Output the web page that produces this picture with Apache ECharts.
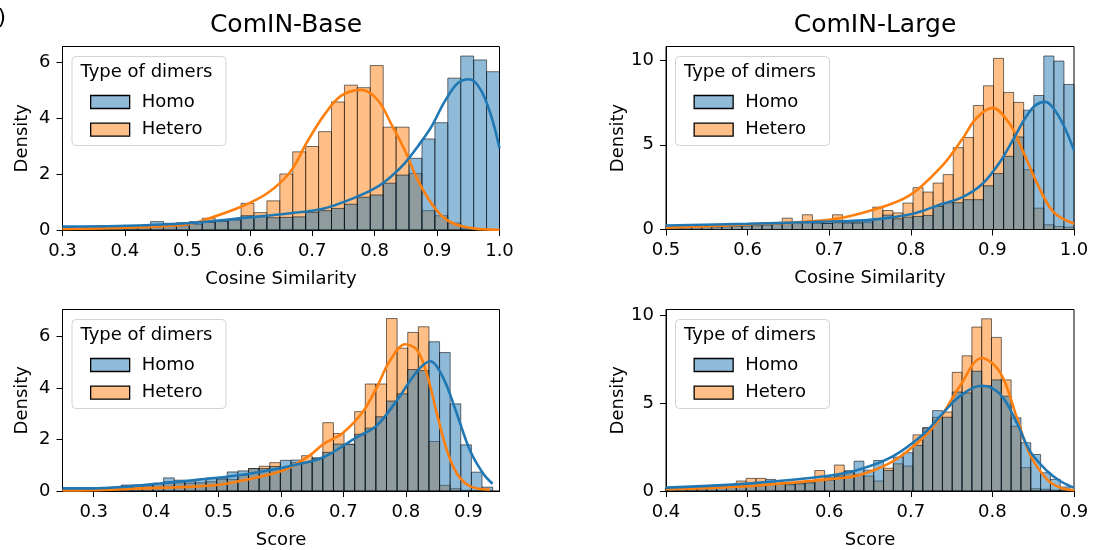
<!DOCTYPE html>
<html>
<head>
<meta charset="utf-8">
<script src="https://cdn.jsdelivr.net/npm/echarts@6/dist/echarts.min.js"></script>
<style>
html, body { margin: 0; padding: 0; background: #fff; }
#chart { width: 1094px; height: 550px; }
</style>
</head>
<body>
<div id="chart"></div>
<script>
const FONT = 'DejaVu Sans';
const HOMO = '#1f77b4';
const HETERO = '#ff7f0e';

// ComIN-Base, cosine similarity
const baseCosLo = 0.2962, baseCosW = 0.0207;
const baseCosHomo = [0.12, 0.12, 0.12, 0.1, 0.1, 0.12, 0.12, 0.3, 0.24, 0.26, 0.3, 0.27, 0.33, 0.38,
  0.51, 0.48, 0.44, 0.45, 0.47, 0.63, 0.69, 0.77, 0.92, 1.17, 1.25, 1.67, 1.96, 2.56, 3.25, 3.83,
  5.42, 6.21, 6.07, 5.65];
const baseCosHetero = [0.04, 0.04, 0.05, 0.06, 0.06, 0.07, 0.08, 0.1, 0.12, 0.15, 0.2, 0.42, 0.3, 0.35,
  0.95, 0.62, 1.04, 2.0, 2.79, 2.98, 3.51, 4.57, 5.17, 5.08, 5.87, 3.67, 3.67, 2.02, 0.69, 0.51,
  0.25, 0.05, 0.02, 0.01];
const baseCosKdeHomoX = [0.3, 0.4, 0.5, 0.6, 0.665, 0.719, 0.772, 0.805, 0.826, 0.848, 0.869, 0.891, 0.912, 0.933, 0.952, 0.97, 0.987, 1.0];
const baseCosKdeHomoY = [0.12, 0.15, 0.24, 0.45, 0.6, 0.77, 1.19, 1.55, 1.9, 2.38, 2.98, 3.69, 4.58, 5.24, 5.38, 5.0, 4.05, 2.92];
const baseCosKdeHetX = [0.3, 0.4, 0.5, 0.526, 0.586, 0.628, 0.665, 0.692, 0.719, 0.746, 0.779, 0.805, 0.826, 0.848, 0.869, 0.891, 0.912, 0.933, 0.96, 1.0];
const baseCosKdeHetY = [0.04, 0.08, 0.2, 0.35, 0.83, 1.31, 2.08, 3.15, 4.1, 4.79, 5.0, 4.64, 3.81, 2.86, 1.79, 0.95, 0.42, 0.18, 0.05, 0.01];

// ComIN-Large, cosine similarity
const largeCosLo = 0.49447, largeCosW = 0.01233;
const largeCosHomo = [0.14, 0.15, 0.16, 0.18, 0.2, 0.2, 0.22, 0.25, 0.25, 0.28, 0.3, 0.36, 0.4, 0.4,
  0.4, 0.4, 0.36, 0.4, 0.4, 0.4, 0.5, 0.63, 0.85, 0.63, 0.73, 0.77, 0.83, 1.36, 1.58, 1.58, 1.76,
  1.76, 2.58, 3.3, 4.32, 5.46, 7.04, 7.91, 10.24, 9.94, 8.56];
const largeCosHetero = [0.05, 0.06, 0.08, 0.1, 0.1, 0.12, 0.15, 0.18, 0.2, 0.22, 0.25, 0.3, 0.67, 0.35,
  0.87, 0.38, 0.36, 0.87, 0.38, 0.38, 0.4, 1.32, 1.12, 0.98, 1.56, 2.47, 2.21, 2.74, 3.24, 4.83, 5.43,
  7.32, 8.48, 10.1, 8.09, 7.5, 3.53, 1.26, 0.28, 0.18, 0.14];
const largeCosKdeHomoX = [0.5, 0.6, 0.7, 0.75, 0.8, 0.839, 0.8635, 0.888, 0.908, 0.925, 0.941, 0.953, 0.965, 0.978, 0.99, 1.0];
const largeCosKdeHomoY = [0.24, 0.34, 0.47, 0.57, 0.9, 1.52, 1.91, 2.7, 3.89, 5.27, 6.64, 7.34, 7.53, 6.94, 5.86, 4.67];
const largeCosKdeHetX = [0.5, 0.6, 0.7, 0.751, 0.798, 0.839, 0.8635, 0.88, 0.9, 0.921, 0.937, 0.955, 0.975, 1.0];
const largeCosKdeHetY = [0.1, 0.3, 0.57, 1.12, 2.0, 3.79, 5.37, 6.55, 7.18, 6.25, 4.67, 2.7, 1.02, 0.34];

// ComIN-Base, score
const baseScoreLo = 0.242, baseScoreW = 0.017;
const baseScoreHomo = [0.08, 0.05, 0.05, 0.07, 0.14, 0.14, 0.23, 0.23, 0.23, 0.3, 0.51, 0.42, 0.36, 0.46,
  0.5, 0.5, 0.74, 0.78, 0.87, 0.87, 0.95, 1.19, 1.2, 1.12, 1.28, 1.5, 1.82, 1.82, 2.2, 2.44, 2.88,
  3.49, 3.77, 4.71, 4.67, 5.79, 5.37, 3.38, 1.79, 0.73, 0.15];
const baseScoreHetero = [0.02, 0.02, 0.03, 0.05, 0.1, 0.14, 0.2, 0.22, 0.2, 0.28, 0.36, 0.32, 0.3, 0.32,
  0.36, 0.45, 0.45, 0.6, 0.87, 0.96, 1.1, 0.87, 1.1, 1.37, 1.28, 2.65, 2.23, 1.8, 3.08, 4.15, 4.15,
  6.69, 5.54, 6.15, 6.37, 1.92, 0.22, 0.09, 0.03, 0.01, 0];
const baseScoreKdeHomoX = [0.25, 0.299, 0.353, 0.406, 0.459, 0.513, 0.566, 0.62, 0.668, 0.721, 0.753, 0.785, 0.818, 0.839, 0.86, 0.882, 0.903, 0.924, 0.939];
const baseScoreKdeHomoY = [0.1, 0.1, 0.17, 0.29, 0.42, 0.55, 0.74, 1.0, 1.31, 2.08, 2.53, 3.49, 4.64, 5.03, 4.38, 2.97, 1.56, 0.67, 0.28];
const baseScoreKdeHetX = [0.25, 0.3, 0.4, 0.459, 0.497, 0.529, 0.566, 0.609, 0.647, 0.668, 0.7, 0.732, 0.753, 0.774, 0.799, 0.818, 0.834, 0.85, 0.866, 0.882, 0.903, 0.935];
const baseScoreKdeHetY = [0.02, 0.03, 0.12, 0.17, 0.23, 0.36, 0.55, 0.85, 1.4, 1.82, 2.27, 3.1, 4.0, 5.03, 5.69, 5.47, 4.51, 2.97, 1.56, 0.67, 0.18, 0.05];

// ComIN-Large, score
const largeScoreLo = 0.3899, largeScoreW = 0.01203;
const largeScoreHomo = [0.2, 0.2, 0.22, 0.22, 0.25, 0.25, 0.25, 0.3, 0.28, 0.32, 0.3, 0.66, 0.4, 0.4,
  0.45, 0.5, 0.6, 0.76, 0.85, 1.14, 1.7, 1.19, 1.74, 1.17, 1.93, 2.18, 2.6, 3.6, 4.58, 4.2, 5.64,
  5.59, 6.82, 6.0, 6.33, 5.4, 4.17, 2.75, 2.08, 1.04, 0.66, 0.23];
const largeScoreHetero = [0.1, 0.1, 0.1, 0.12, 0.12, 0.15, 0.2, 0.2, 0.57, 0.72, 0.72, 0.38, 0.38, 0.35,
  0.4, 0.45, 1.17, 0.6, 1.48, 1.14, 0.95, 0.85, 0.57, 1.3, 1.55, 1.42, 3.2, 3.6, 4.2, 4.5, 6.76,
  7.7, 9.34, 9.81, 8.75, 6.33, 3.69, 1.33, 0.13, 0.1, 0.05, 0.02];
const largeScoreKdeHomoX = [0.4, 0.5, 0.597, 0.637, 0.6785, 0.715, 0.736, 0.76, 0.787, 0.81, 0.83, 0.846, 0.867, 0.883, 0.9];
const largeScoreKdeHomoY = [0.19, 0.42, 0.85, 1.23, 1.99, 3.22, 4.26, 5.4, 6.0, 5.49, 3.88, 2.27, 1.14, 0.57, 0.19];
const largeScoreKdeHetX = [0.4, 0.5, 0.597, 0.637, 0.6785, 0.715, 0.736, 0.76, 0.787, 0.81, 0.83, 0.846, 0.867, 0.883, 0.9];
const largeScoreKdeHetY = [0.1, 0.28, 0.66, 0.91, 1.7, 3.03, 4.17, 5.97, 7.58, 6.72, 4.17, 2.08, 0.66, 0.19, 0.04];

const xTicksBaseCos = [0.3, 0.4, 0.5, 0.6, 0.7, 0.8, 0.9, 1.0];
const xTicksLargeCos = [0.5, 0.6, 0.7, 0.8, 0.9, 1.0];
const xTicksBaseScore = [0.3, 0.4, 0.5, 0.6, 0.7, 0.8, 0.9];
const xTicksLargeScore = [0.4, 0.5, 0.6, 0.7, 0.8, 0.9];
const yTicksBase = [0, 2, 4, 6];
const yTicksLarge = [0, 5, 10];

const panels = [
  { grid: { left: 62.5, top: 46.5, width: 437, height: 183.5 }, xMin: 0.3, xMax: 1.0, yMax: 6.55,
    xTicks: xTicksBaseCos, yTicks: yTicksBase, xName: 'Cosine Similarity',
    lo: baseCosLo, w: baseCosW, homo: baseCosHomo, hetero: baseCosHetero,
    kHomo: [baseCosKdeHomoX, baseCosKdeHomoY], kHet: [baseCosKdeHetX, baseCosKdeHetY] },
  { grid: { left: 666, top: 46.5, width: 408, height: 183 }, xMin: 0.5, xMax: 1.0, yMax: 10.8,
    xTicks: xTicksLargeCos, yTicks: yTicksLarge, xName: 'Cosine Similarity',
    lo: largeCosLo, w: largeCosW, homo: largeCosHomo, hetero: largeCosHetero,
    kHomo: [largeCosKdeHomoX, largeCosKdeHomoY], kHet: [largeCosKdeHetX, largeCosKdeHetY] },
  { grid: { left: 62.5, top: 309.5, width: 437, height: 183 }, xMin: 0.25, xMax: 0.95, yMax: 7.04,
    xTicks: xTicksBaseScore, yTicks: yTicksBase, xName: 'Score',
    lo: baseScoreLo, w: baseScoreW, homo: baseScoreHomo, hetero: baseScoreHetero,
    kHomo: [baseScoreKdeHomoX, baseScoreKdeHomoY], kHet: [baseScoreKdeHetX, baseScoreKdeHetY] },
  { grid: { left: 666, top: 309.5, width: 408, height: 182.5 }, xMin: 0.4, xMax: 0.9, yMax: 10.34,
    xTicks: xTicksLargeScore, yTicks: yTicksLarge, xName: 'Score',
    lo: largeScoreLo, w: largeScoreW, homo: largeScoreHomo, hetero: largeScoreHetero,
    kHomo: [largeScoreKdeHomoX, largeScoreKdeHomoY], kHet: [largeScoreKdeHetX, largeScoreKdeHetY] }
];

function toBins(lo, w, h) {
  return h.map((v, i) => [lo + i * w, lo + (i + 1) * w, v]);
}

function renderBin(fill) {
  return function (params, api) {
    const p0 = api.coord([api.value(0), api.value(2)]);
    const p1 = api.coord([api.value(1), 0]);
    const cs = params.coordSys;
    const shape = echarts.graphic.clipRectByRect(
      { x: p0[0], y: p0[1], width: p1[0] - p0[0], height: p1[1] - p0[1] },
      { x: cs.x, y: cs.y, width: cs.width, height: cs.height });
    if (!shape) return;
    return { type: 'rect', shape: shape, style: { fill: fill, stroke: 'rgba(0,0,0,0.55)', lineWidth: 1 } };
  };
}

const axisText = { fontFamily: FONT, fontSize: 18, color: '#000' };

const grids = [], xAxes = [], yAxes = [], series = [], legends = [], graphics = [];

panels.forEach((p, i) => {
  grids.push(Object.assign({ show: true, borderColor: '#000', borderWidth: 1, backgroundColor: 'transparent' }, p.grid));

  xAxes.push({
    type: 'value', gridIndex: i, min: p.xMin, max: p.xMax,
    name: p.xName, nameLocation: 'middle', nameGap: 40, nameTextStyle: axisText,
    axisLine: { show: true, lineStyle: { color: '#000', width: 1 } },
    axisTick: { show: true, length: 6, lineStyle: { color: '#000' }, customValues: p.xTicks },
    axisLabel: { customValues: p.xTicks, formatter: v => v.toFixed(1), margin: 12, fontFamily: FONT, fontSize: 18, color: '#000' },
    splitLine: { show: false }
  });

  yAxes.push({
    type: 'value', gridIndex: i, min: 0, max: p.yMax,
    name: 'Density', nameLocation: 'middle', nameGap: 31, nameRotate: 90, nameTextStyle: axisText,
    axisLine: { show: true, lineStyle: { color: '#000', width: 1 } },
    axisTick: { show: true, length: 6, lineStyle: { color: '#000' }, customValues: p.yTicks },
    axisLabel: { customValues: p.yTicks, formatter: v => String(v), margin: 12, fontFamily: FONT, fontSize: 18, color: '#000' },
    splitLine: { show: false }
  });

  // hetero first, homo drawn over it
  series.push({
    type: 'custom', name: 'Hetero', xAxisIndex: i, yAxisIndex: i, z: 2,
    renderItem: renderBin('rgba(255,127,14,0.5)'), encode: { x: [0, 1], y: 2 },
    itemStyle: { color: HETERO }, data: toBins(p.lo, p.w, p.hetero), silent: true
  });
  series.push({
    type: 'custom', name: 'Homo', xAxisIndex: i, yAxisIndex: i, z: 2,
    renderItem: renderBin('rgba(31,119,180,0.5)'), encode: { x: [0, 1], y: 2 },
    itemStyle: { color: HOMO }, data: toBins(p.lo, p.w, p.homo), silent: true
  });
  series.push({
    type: 'line', name: 'Hetero KDE', xAxisIndex: i, yAxisIndex: i, z: 3,
    data: p.kHet[0].map((x, j) => [x, p.kHet[1][j]]), smooth: 0.35, showSymbol: false,
    lineStyle: { color: HETERO, width: 2.6 }, itemStyle: { color: HETERO }, clip: true, silent: true
  });
  series.push({
    type: 'line', name: 'Homo KDE', xAxisIndex: i, yAxisIndex: i, z: 3,
    data: p.kHomo[0].map((x, j) => [x, p.kHomo[1][j]]), smooth: 0.35, showSymbol: false,
    lineStyle: { color: HOMO, width: 2.6 }, itemStyle: { color: HOMO }, clip: true, silent: true
  });

  // legend box with its title
  const bx = p.grid.left + 9.5, by = p.grid.top + 10;
  graphics.push({
    type: 'rect', z: 10, shape: { x: bx, y: by, width: 154, height: 89, r: 4 },
    style: { fill: 'rgba(255,255,255,0.8)', stroke: '#d3d3d3', lineWidth: 1 }
  });
  graphics.push({
    type: 'text', z: 11, x: bx + 8.5, y: by + 16,
    style: { text: 'Type of dimers', font: '18px "DejaVu Sans"', fill: '#000', verticalAlign: 'middle' }
  });
  const legendStyle = {
    orient: 'vertical', itemWidth: 39, itemHeight: 13, icon: 'rect', padding: 0, z: 12,
    textStyle: { fontFamily: FONT, fontSize: 18, color: '#000', lineHeight: 13, padding: [0, 0, 0, 7] },
    selectedMode: false
  };
  legends.push(Object.assign({}, legendStyle, {
    left: bx + 18, top: by + 43 - 6.5,
    data: [{ name: 'Homo', itemStyle: { color: '#8fbbd9', borderColor: '#000', borderWidth: 1.3 } }]
  }));
  legends.push(Object.assign({}, legendStyle, {
    left: bx + 18, top: by + 70.7 - 6.5,
    data: [{ name: 'Hetero', itemStyle: { color: '#ffbf86', borderColor: '#000', borderWidth: 1.3 } }]
  }));
});

graphics.push({
  type: 'text', x: 6, y: 18,
  style: { text: 'b)', font: '22px "DejaVu Sans"', fill: '#000', align: 'right', verticalAlign: 'middle' }
});

const chart = echarts.init(document.getElementById('chart'), null, { renderer: 'canvas' });
chart.setOption({
  animation: false,
  backgroundColor: '#fff',
  title: [
    { text: 'ComIN-Base', left: 281, top: 8, textAlign: 'center',
      textStyle: { fontFamily: FONT, fontSize: 25, fontWeight: 'normal', color: '#000' } },
    { text: 'ComIN-Large', left: 870, top: 8, textAlign: 'center',
      textStyle: { fontFamily: FONT, fontSize: 25, fontWeight: 'normal', color: '#000' } }
  ],
  grid: grids,
  xAxis: xAxes,
  yAxis: yAxes,
  legend: legends,
  graphic: graphics,
  series: series
});
</script>
</body>
</html>
